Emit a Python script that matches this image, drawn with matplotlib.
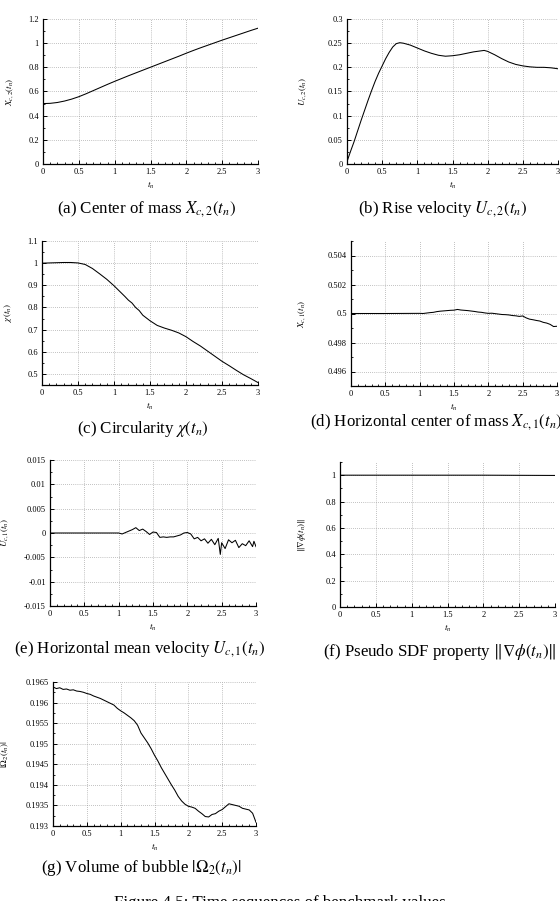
import matplotlib

matplotlib.use("Agg")
import matplotlib.pyplot as plt
from matplotlib.ticker import MultipleLocator, FuncFormatter

# ======================================================
# Data
# ======================================================
t_coarse = [0.0, 0.1, 0.2, 0.3, 0.4, 0.5, 0.6, 0.7, 0.8, 0.9, 1.0,
            1.1, 1.2, 1.3, 1.4, 1.5, 1.6, 1.7, 1.8, 1.9, 2.0,
            2.1, 2.2, 2.3, 2.4, 2.5, 2.6, 2.7, 2.8, 2.9, 3.0]

# (a) center of mass X_c,2
xc2 = [0.500, 0.502, 0.509, 0.521, 0.537, 0.557, 0.581, 0.607, 0.633, 0.659, 0.684,
       0.708, 0.732, 0.755, 0.778, 0.801, 0.824, 0.847, 0.870, 0.893, 0.917,
       0.940, 0.962, 0.983, 1.004, 1.025, 1.045, 1.065, 1.085, 1.105, 1.124]

# (b) rise velocity U_c,2
t_uc2 = [0.0, 0.05, 0.1, 0.15, 0.2, 0.25, 0.3, 0.35, 0.4, 0.45, 0.5, 0.55, 0.6, 0.65,
         0.7, 0.75, 0.8, 0.9, 1.0, 1.1, 1.2, 1.3, 1.4, 1.5, 1.6, 1.7, 1.8, 1.9,
         1.95, 2.0, 2.1, 2.2, 2.3, 2.4, 2.5, 2.6, 2.7, 2.8, 2.9, 3.0]
uc2 = [0.005, 0.026, 0.046, 0.068, 0.090, 0.111, 0.132, 0.152, 0.171, 0.188, 0.203, 0.218,
       0.231, 0.242, 0.249, 0.251, 0.250, 0.246, 0.240, 0.234, 0.229, 0.225, 0.223,
       0.224, 0.226, 0.229, 0.232, 0.234, 0.235, 0.233, 0.226, 0.218, 0.211, 0.206,
       0.203, 0.201, 0.200, 0.200, 0.199, 0.197]

# (c) circularity chi
t_chi = [0.0, 0.1, 0.2, 0.3, 0.4, 0.5, 0.6, 0.7, 0.8, 0.9, 1.0, 1.1, 1.15, 1.2, 1.25,
         1.3, 1.35, 1.4, 1.5, 1.6, 1.7, 1.8, 1.9, 2.0, 2.1, 2.2, 2.3, 2.4, 2.5, 2.6,
         2.7, 2.8, 2.9, 3.0]
chi = [1.000, 1.001, 1.002, 1.003, 1.003, 1.001, 0.994, 0.976, 0.952, 0.927, 0.898,
       0.866, 0.850, 0.833, 0.820, 0.800, 0.786, 0.765, 0.740, 0.719, 0.707, 0.697,
       0.685, 0.668, 0.646, 0.626, 0.603, 0.580, 0.557, 0.537, 0.516, 0.496, 0.479,
       0.461]

# (d) horizontal center of mass X_c,1
t_xc1 = [0.0, 0.5, 1.0, 1.05, 1.1, 1.15, 1.2, 1.25, 1.3, 1.35, 1.4, 1.45, 1.5, 1.55,
         1.6, 1.65, 1.7, 1.75, 1.8, 1.85, 1.9, 1.95, 2.0, 2.05, 2.1, 2.15, 2.2, 2.25,
         2.3, 2.35, 2.4, 2.45, 2.5, 2.55, 2.6, 2.65, 2.7, 2.75, 2.8, 2.85, 2.9, 2.95, 3.0]
xc1 = [0.50000, 0.50000, 0.50001, 0.50000, 0.50003, 0.50006, 0.50008, 0.50013, 0.50016,
       0.50018, 0.50020, 0.50022, 0.50023, 0.50028, 0.50024, 0.50022, 0.50020, 0.50017,
       0.50014, 0.50010, 0.50008, 0.50004, 0.50001, 0.50002, 0.49999, 0.49996, 0.49993,
       0.49992, 0.49990, 0.49986, 0.49984, 0.49980, 0.49983, 0.49970, 0.49961, 0.49957,
       0.49952, 0.49948, 0.49939, 0.49934, 0.49925, 0.49910, 0.49912]

# (e) horizontal mean velocity U_c,1
t_uc1 = [0.0, 0.5, 1.0, 1.05, 1.1, 1.15, 1.2, 1.25, 1.3, 1.35, 1.4, 1.45, 1.5, 1.55,
         1.6, 1.65, 1.7, 1.75, 1.8, 1.85, 1.9, 1.95, 2.0, 2.05, 2.1, 2.15, 2.2, 2.25,
         2.3, 2.35, 2.4, 2.45, 2.48, 2.5, 2.55, 2.6, 2.65, 2.7, 2.75, 2.8, 2.85, 2.9,
         2.95, 2.97, 3.0]
uc1 = [0.0, 0.0, 0.0, -0.0002, 0.0001, 0.0004, 0.0007, 0.0011, 0.0005, 0.0008, 0.0003,
       -0.0003, 0.0002, 0.0001, -0.0009, -0.0008, -0.0009, -0.0008, -0.0008, -0.0006,
       -0.0004, 0.0000, 0.0001, -0.0002, -0.0012, -0.0009, -0.0016, -0.0012, -0.0021,
       -0.0013, -0.0024, -0.0011, -0.0044, -0.0020, -0.0032, -0.0014, -0.0020, -0.0015,
       -0.0030, -0.0022, -0.0026, -0.0016, -0.0028, -0.0017, -0.0028]

# (f) pseudo SDF property
t_sdf = [0.0, 1.0, 2.0, 3.0]
sdf = [1.0, 1.0, 1.0, 0.998]

# (g) bubble volume
t_vol = [0.0, 0.05, 0.1, 0.15, 0.2, 0.25, 0.3, 0.35, 0.4, 0.45, 0.5, 0.55, 0.6, 0.65,
         0.7, 0.75, 0.8, 0.85, 0.9, 0.95, 1.0, 1.05, 1.1, 1.15, 1.2, 1.25, 1.3, 1.35,
         1.4, 1.45, 1.5, 1.55, 1.6, 1.65, 1.7, 1.75, 1.8, 1.85, 1.9, 1.95, 2.0, 2.05,
         2.1, 2.15, 2.2, 2.25, 2.3, 2.35, 2.4, 2.45, 2.5, 2.55, 2.6, 2.65, 2.7, 2.75,
         2.8, 2.85, 2.9, 2.95, 3.0]
vol = [0.19638, 0.19634, 0.19636, 0.19632, 0.19633, 0.19630, 0.19631, 0.19628, 0.19627,
       0.19625, 0.19622, 0.19620, 0.19616, 0.19613, 0.19610, 0.19606, 0.19602, 0.19598,
       0.19594, 0.19586, 0.19580, 0.19575, 0.19569, 0.19563, 0.19556, 0.19545, 0.19526,
       0.19514, 0.19502, 0.19488, 0.19472, 0.19458, 0.19442, 0.19428, 0.19414, 0.19400,
       0.19387, 0.19372, 0.19361, 0.19353, 0.19348, 0.19346, 0.19343, 0.19336, 0.19330,
       0.19323, 0.19322, 0.19328, 0.19330, 0.19336, 0.19340, 0.19347, 0.19354, 0.19352,
       0.19350, 0.19348, 0.19343, 0.19341, 0.19339, 0.19331, 0.19309]

# ======================================================
# Style
# ======================================================
plt.rcParams["font.family"] = ["Liberation Serif", "DejaVu Serif"]
plt.rcParams["mathtext.fontset"] = "stix"

W, H = 560, 901
fig = plt.figure(figsize=(W / 100, H / 100), dpi=100)


def box(left, top, right, bottom):
    return [left / W, 1 - bottom / H, (right - left) / W, (bottom - top) / H]


def g_fmt(v, pos):
    return "%g" % round(v, 6)


def panel(rect, t, y, ylim, ystep, ylabel, yminor, ylabel_center):
    ax = fig.add_axes(box(*rect))
    ax.plot(t, y, color="black", lw=0.75)
    ax.set_xlim(0, 3)
    ax.set_ylim(*ylim)
    ax.xaxis.set_major_locator(MultipleLocator(0.5))
    ax.xaxis.set_minor_locator(MultipleLocator(0.1))
    ax.yaxis.set_major_locator(MultipleLocator(ystep))
    ax.yaxis.set_minor_locator(MultipleLocator(yminor))
    ax.xaxis.set_major_formatter(FuncFormatter(g_fmt))
    ax.yaxis.set_major_formatter(FuncFormatter(g_fmt))
    for s in ("top", "right"):
        ax.spines[s].set_visible(False)
    for s in ("left", "bottom"):
        ax.spines[s].set_linewidth(0.9)
    ax.tick_params(which="both", direction="in", labelsize=6, pad=3)
    ax.tick_params(which="major", length=3, width=0.7)
    ax.tick_params(which="minor", length=1.6, width=0.6)
    ax.grid(True, which="major", ls=(0, (1, 2)), color="#888888", lw=0.5)
    ax.set_xlabel(r"$t_n$", fontsize=6.5, labelpad=2.5)
    ax.set_ylabel(ylabel, fontsize=6.5)
    # ylabel anchor is the right edge of the rotated text
    ax.yaxis.set_label_coords((ylabel_center + 4 - rect[0]) / (rect[2] - rect[0]), 0.5)
    return ax


panel((43, 19, 258, 164), t_coarse, xc2, (0, 1.2), 0.2, r"$X_{c,2}(t_n)$", 0.1, 12)
panel((347, 19, 558, 164), t_uc2, uc2, (0, 0.3), 0.05, r"$U_{c,2}(t_n)$", 0.025, 305)
panel((42, 241, 258, 385), t_chi, chi, (0.45, 1.1), 0.1, r"$\chi(t_n)$", 0.05, 10)
panel((351, 241, 557, 386), t_xc1, xc1, (0.495, 0.505), 0.002, r"$X_{c,1}(t_n)$", 0.001, 304)
panel((50, 460, 256, 606), t_uc1, uc1, (-0.015, 0.015), 0.005, r"$U_{c,1}(t_n)$", 0.0025, 7)
panel((340, 462, 555, 607), t_sdf, sdf, (0, 1.1), 0.2, r"$\|\nabla\phi(t_n)\|$", 0.1, 304)
panel((53, 682, 256, 826), t_vol, vol, (0.193, 0.1965), 0.0005, r"$|\Omega_2(t_n)|$", 0.00025, 7)

# ======================================================
# Captions
# ======================================================
cap = dict(fontsize=12.2, va="center")
fig.text(147 / W, 1 - 209 / H, r"(a) Center of mass $X_{c,2}(t_n)$", ha="center", **cap)
fig.text(443 / W, 1 - 209 / H, r"(b) Rise velocity $U_{c,2}(t_n)$", ha="center", **cap)
fig.text(143 / W, 1 - 429 / H, r"(c) Circularity $\chi(t_n)$", ha="center", **cap)
fig.text(310 / W, 1 - 422 / H, r"(d) Horizontal center of mass $X_{c,1}(t_n)$", ha="left", **cap)
fig.text(140 / W, 1 - 649 / H, r"(e) Horizontal mean velocity $U_{c,1}(t_n)$", ha="center", **cap)
fig.text(440 / W, 1 - 652 / H, r"(f) Pseudo SDF property $\|\nabla\phi(t_n)\|$", ha="center", **cap)
fig.text(141 / W, 1 - 868 / H, r"(g) Volume of bubble $|\Omega_2(t_n)|$", ha="center", **cap)
fig.text(280 / W, 1 - 903 / H, "Figure 4.5: Time sequences of benchmark values",
         ha="center", **cap)

fig.savefig("out.png", dpi=100)
